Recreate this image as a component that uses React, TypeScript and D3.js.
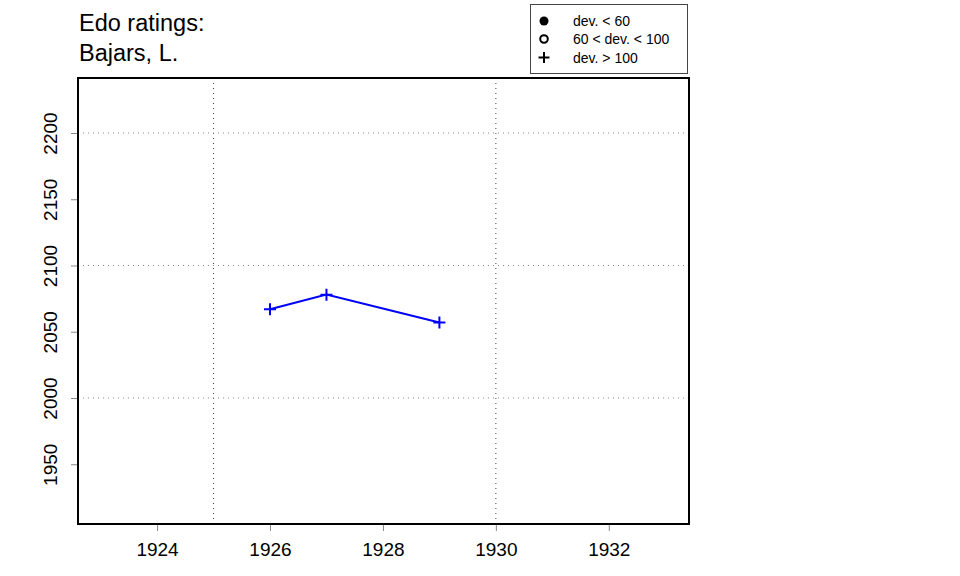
import { useRef, useEffect } from "react";
import * as d3 from "d3";

const years = [1926, 1927, 1929];
const ratings = [2067, 2078, 2057];
const xTicks = [1924, 1926, 1928, 1930, 1932];
const yTicks = [1950, 2000, 2050, 2100, 2150, 2200];
const xGrid = [1925, 1930];
const yGrid = [2000, 2100, 2200];
const legendLabels = ["dev. < 60", "60 < dev. < 100", "dev. > 100"];

const FONT = "'Liberation Sans', Arial, sans-serif";

export default function App() {
  const svgRef = useRef<SVGSVGElement>(null);

  useEffect(() => {
    if (!svgRef.current) return;
    const svg = d3.select(svgRef.current);
    svg.selectAll("*").remove();

    const left = 78, right = 689, top = 78, bottom = 524;
    const x = d3.scaleLinear().domain([1922.6, 1933.42]).range([left, right]);
    const y = d3.scaleLinear().domain([1904.9, 2241.5]).range([bottom, top]);

    // grid
    svg.append("g").selectAll("line").data(xGrid).enter().append("line")
      .attr("x1", (d) => x(d)).attr("x2", (d) => x(d))
      .attr("y1", top).attr("y2", bottom)
      .attr("stroke", "#444").attr("stroke-width", 1).attr("stroke-dasharray", "1,4");
    svg.append("g").selectAll("line").data(yGrid).enter().append("line")
      .attr("x1", left).attr("x2", right)
      .attr("y1", (d) => y(d)).attr("y2", (d) => y(d))
      .attr("stroke", "#888").attr("stroke-width", 1).attr("stroke-dasharray", "1,4");

    // axes
    const xAxis = svg.append("g")
      .attr("transform", `translate(0,${bottom})`)
      .call(d3.axisBottom(x).tickValues(xTicks).tickFormat(d3.format("d")).tickSize(7).tickPadding(12));
    const yAxis = svg.append("g")
      .attr("transform", `translate(${left},0)`)
      .call(d3.axisLeft(y).tickValues(yTicks).tickFormat(d3.format("d")).tickSize(7));
    [xAxis, yAxis].forEach((a) => {
      a.select(".domain").remove();
      a.selectAll(".tick line").attr("stroke", "#888");
      a.selectAll(".tick text").attr("font-family", FONT).attr("font-size", 19).attr("fill", "#000");
    });
    yAxis.selectAll(".tick text")
      .attr("transform", "translate(-21,0) rotate(-90)")
      .attr("x", 0)
      .attr("y", 0)
      .attr("dy", 0)
      .attr("text-anchor", "middle");

    // box
    svg.append("rect")
      .attr("x", left).attr("y", top)
      .attr("width", right - left).attr("height", bottom - top)
      .attr("fill", "none").attr("stroke", "#000").attr("stroke-width", 2);

    // series
    const pts = years.map((yr, i) => [x(yr), y(ratings[i])] as [number, number]);
    svg.append("path")
      .attr("d", d3.line()(pts))
      .attr("fill", "none").attr("stroke", "#0000ff").attr("stroke-width", 2);
    svg.append("g").selectAll("path").data(pts).enter().append("path")
      .attr("d", (d) => `M${d[0] - 6},${d[1]}H${d[0] + 6}M${d[0]},${d[1] - 6}V${d[1] + 6}`)
      .attr("stroke", "#0000ff").attr("stroke-width", 2);

    // title
    const title = svg.append("g").attr("font-family", FONT).attr("font-size", 23.5).attr("fill", "#000");
    title.append("text").attr("x", 79).attr("y", 30.5).text("Edo ratings:");
    title.append("text").attr("x", 79).attr("y", 61).text("Bajars, L.");

    // legend
    const lg = svg.append("g");
    lg.append("rect").attr("x", 530.5).attr("y", 4.5).attr("width", 157).attr("height", 69)
      .attr("fill", "#fff").attr("stroke", "#444").attr("stroke-width", 1);
    const rowY = [21, 39, 57.5];
    legendLabels.forEach((lab, i) => {
      lg.append("text").attr("x", 573).attr("y", rowY[i] + 5)
        .attr("font-family", FONT).attr("font-size", 14).attr("fill", "#000").text(lab);
    });
    lg.append("circle").attr("cx", 544).attr("cy", rowY[0]).attr("r", 4.5).attr("fill", "#000");
    lg.append("circle").attr("cx", 544).attr("cy", rowY[1]).attr("r", 3.8).attr("fill", "none")
      .attr("stroke", "#000").attr("stroke-width", 2);
    lg.append("path").attr("d", `M538.5,${rowY[2]}H549.5M544,${rowY[2] - 5.5}V${rowY[2] + 5.5}`)
      .attr("stroke", "#000").attr("stroke-width", 2);
  }, []);

  return (
    <svg ref={svgRef} width={960} height={576}
      style={{ position: "absolute", left: 0, top: 0, background: "#fff" }} />
  );
}
